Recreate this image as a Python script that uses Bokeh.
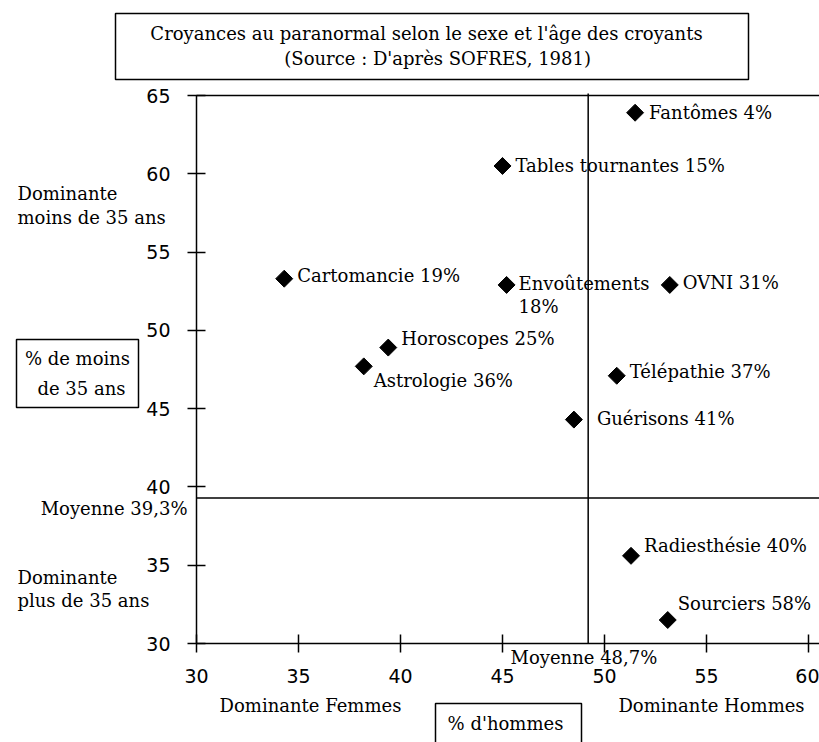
from bokeh.plotting import figure
from bokeh.models import Range1d, Label, BoxAnnotation, ColumnDataSource, FixedTicker
from bokeh.core.properties import value
from bokeh.embed import file_html
from bokeh.resources import INLINE
import math

# ---- data ----
croyances = ["Fantômes 4%", "Tables tournantes 15%", "Cartomancie 19%", "Envoûtements\n18%",
             "OVNI 31%", "Horoscopes 25%", "Astrologie 36%", "Télépathie 37%",
             "Guérisons 41%", "Radiesthésie 40%", "Sourciers 58%"]
pct_hommes = [51.5, 45.0, 34.3, 45.2, 53.2, 39.4, 38.2, 50.6, 48.5, 51.3, 53.1]
pct_moins35 = [63.9, 60.5, 53.3, 52.9, 52.9, 48.9, 47.7, 47.1, 44.3, 35.6, 31.5]
moyenne_hommes_trace = 49.2
moyenne_moins35 = 39.3
x_ticks = [30, 35, 40, 45, 50, 55, 60]
y_ticks = [30, 35, 40, 45, 50, 55, 60, 65]

# ---- layout (label offsets in px) ----
lab_dx = [14, 13, 13, 12, 13, 13, 10, 13, 23, 13, 10]
lab_dy = [0, 0, -3, 10, -2, -9, 14, -4, -1, -10, -17]

SERIF = "DejaVu Serif"
SANS = "DejaVu Sans"
FS = "18px"

W, H = 819, 742
AX_L, AX_T, AX_B = 196, 95, 643      # pixel positions of x=30, y=65, y=30
PXX = 20.4
PXY = (AX_B - AX_T) / 35.0

def X(px):
    return 30 + (px - AX_L) / PXX

def Y(py):
    return 65 - (py - AX_T) / PXY

p = figure(width=W, height=H, output_backend="svg", toolbar_location=None,
           x_range=Range1d(X(0), X(W)), y_range=Range1d(Y(H), Y(0)),
           min_border=0)
p.title.visible = False
p.outline_line_color = None
p.grid.visible = False
p.background_fill_color = "white"
p.border_fill_color = "white"

x_end = X(W)
for ax, ticks, loc, bnds in ((p.xaxis[0], x_ticks, 30, (30, x_end)),
                             (p.yaxis[0], y_ticks, 30, (30, 65))):
    ax.fixed_location = loc
    ax.bounds = bnds
    ax.ticker = FixedTicker(ticks=ticks)
    ax.axis_line_color = "black"
    ax.axis_line_width = 1.5
    ax.major_tick_line_color = "black"
    ax.major_tick_line_width = 1.5
    ax.major_tick_in = 9
    ax.major_tick_out = 9
    ax.minor_tick_line_color = None
    ax.major_label_text_font = SANS
    ax.major_label_text_font_size = "19px"
    ax.major_label_text_color = "black"
p.yaxis[0].major_label_standoff = 17
p.xaxis[0].major_label_standoff = 16

# frame top line and the two mean lines
p.segment(x0=[30, moyenne_hommes_trace, 30], y0=[65, 30, moyenne_moins35],
          x1=[x_end, moyenne_hommes_trace, x_end], y1=[65, Y(93), moyenne_moins35],
          line_color="black", line_width=1.5)

src = ColumnDataSource(dict(x=pct_hommes, y=pct_moins35, t=croyances, dx=lab_dx, dy=lab_dy))
p.scatter("x", "y", source=src, marker="square", size=12, angle=math.pi / 4,
          fill_color="black", line_color="black")
p.text("x", "y", text="t", source=src, x_offset="dx", y_offset="dy",
       text_font=value(SERIF), text_font_size=FS, text_baseline="middle",
       text_align="left", text_color="black", text_line_height=1.1)

def lab(txt, px, py, align="left"):
    p.add_layout(Label(x=X(px), y=Y(py), text=txt, text_font=SERIF, text_font_size=FS,
                       text_align=align, text_baseline="middle", text_color="black"))

def box(l, r, t, b):
    p.add_layout(BoxAnnotation(left=X(l), right=X(r), top=Y(t), bottom=Y(b),
                               fill_alpha=0, line_color="black", line_width=1.5,
                               line_alpha=1))

# title
box(115, 748, 13, 79)
lab("Croyances au paranormal selon le sexe et l'âge des croyants", 426, 33, "center")
lab("(Source  : D'après SOFRES, 1981)", 440, 58, "center")

# left side
lab("Dominante", 17, 193)
lab("moins de 35 ans", 17, 217)
lab("Dominante", 17, 577)
lab("plus de 35 ans", 17, 600)
lab("Moyenne 39,3%", 187, 508, "right")
box(16, 138, 339, 407)
lab("% de moins", 77, 358, "center")
lab("de 35 ans", 81, 388, "center")

# bottom
lab("Moyenne 48,7%", 510, 657)
lab("Dominante Femmes", 310, 705, "center")
lab("Dominante Hommes", 711, 705, "center")
box(435, 581, 703, 760)
lab("% d'hommes", 505, 723, "center")

open("out.html", "w").write(file_html(p, INLINE))
